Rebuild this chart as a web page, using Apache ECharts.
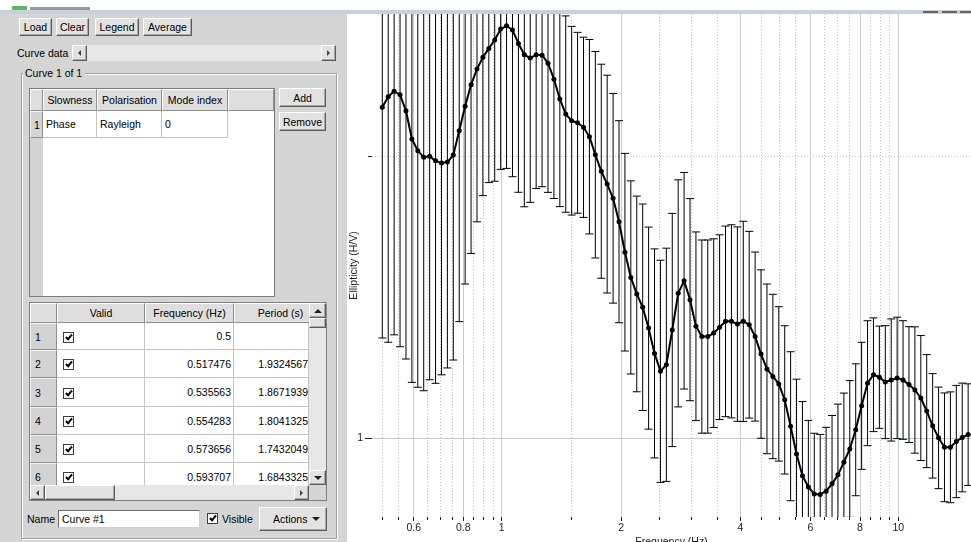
<!DOCTYPE html>
<html>
<head>
<meta charset="utf-8">
<title>Ellipticity curve</title>
<script src="https://cdn.jsdelivr.net/npm/echarts@6.0.0/dist/echarts.min.js"></script>
<style>
  html, body { margin:0; padding:0; background:#fff; }
  body { width:971px; height:542px; overflow:hidden; position:relative;
         font-family:"Liberation Sans", Arial, sans-serif; font-size:10.5px; color:#000; }
  #chart { position:absolute; left:0; top:0; width:971px; height:542px; }
  #ui { position:absolute; left:0; top:0; width:971px; height:542px; pointer-events:none; }
  .c { position:absolute; box-sizing:border-box; white-space:nowrap; overflow:hidden;
       display:flex; align-items:center; }
  .bg { background:#d5d5d5; }
  .btn { background:#e2e2e2; border:1px solid; border-color:#fff #5c5c5c #5c5c5c #fff;
         box-shadow: inset -1px -1px 0 #a9a9a9; justify-content:center; }
  .hdr { background:#dedede; border-top:1px solid #fff; border-left:1px solid #fff;
         border-right:1px solid #8e8e8e; border-bottom:1px solid #8e8e8e; justify-content:center; }
  .rh { background:#d3d3d3; border-top:1px solid #f4f4f4; border-left:1px solid #f4f4f4;
        border-right:1px solid #8e8e8e; border-bottom:1px solid #8e8e8e; padding-left:4px; }
  .cell { background:#fff; border-right:1px solid #c4c4c4; border-bottom:1px solid #c4c4c4; padding:0 3px; }
  .r { justify-content:flex-end; }
  .frame { border:1px solid #7d7d7d; background:#fff; }
  .track { background:#e7e7e7; }
  .chk { background:#fff; border:1px solid #404040; overflow:visible; }
  .chk::after { content:''; position:absolute; left:3px; top:0px; width:2px; height:5px;
                border:solid #000; border-width:0 2px 2px 0; transform:rotate(40deg); }
  .tl { width:0; height:0; border-top:3px solid transparent; border-bottom:3px solid transparent; border-right:3px solid #404040; }
  .tr { width:0; height:0; border-top:3px solid transparent; border-bottom:3px solid transparent; border-left:3px solid #404040; }
  .tu { width:0; height:0; border-left:4px solid transparent; border-right:4px solid transparent; border-bottom:4px solid #202020; }
  .td { width:0; height:0; border-left:4px solid transparent; border-right:4px solid transparent; border-top:4px solid #202020; }
</style>
</head>
<body>
<div id="chart"></div>
<div id="ui"></div>
<script>
// Frequency samples of the ellipticity curve (Hz), log-spaced from 0.5 to 15 Hz
const frequency = [
  0.5, 0.5175, 0.5356, 0.5543, 0.5737, 0.5937, 0.6145, 0.6359, 0.6582, 0.6812,
  0.7050, 0.7296, 0.7551, 0.7815, 0.8088, 0.8371, 0.8664, 0.8966, 0.9280, 0.9604,
  0.9940, 1.0287, 1.0647, 1.1019, 1.1404, 1.1803, 1.2215, 1.2642, 1.3084, 1.3542,
  1.4015, 1.4505, 1.5012, 1.5536, 1.6079, 1.6641, 1.7223, 1.7825, 1.8448, 1.9093,
  1.9760, 2.0451, 2.1166, 2.1906, 2.2671, 2.3464, 2.4284, 2.5133, 2.6011, 2.6920,
  2.7861, 2.8835, 2.9843, 3.0886, 3.1966, 3.3083, 3.4239, 3.5436, 3.6675, 3.7957,
  3.9283, 4.0656, 4.2077, 4.3548, 4.5070, 4.6646, 4.8276, 4.9963, 5.1709, 5.3515,
  5.5385, 5.7321, 5.9325, 6.1399, 6.3545, 6.5766, 6.8064, 7.0444, 7.2906, 7.5454,
  7.8091, 8.0821, 8.3646, 8.6569, 8.9595, 9.2727, 9.5968, 9.9322, 10.279, 10.639,
  11.011, 11.395, 11.794, 12.206, 12.633, 13.074, 13.531, 14.004, 14.494, 15.000
];

// Mean ellipticity (H/V) at each frequency
const ellipticity = [
  2.256, 2.316, 2.347, 2.327, 2.237, 2.087, 2.028, 1.995, 2.000, 1.978,
  1.967, 1.972, 2.006, 2.130, 2.262, 2.385, 2.479, 2.551, 2.608, 2.662,
  2.735, 2.757, 2.728, 2.640, 2.567, 2.547, 2.567, 2.565, 2.515, 2.418,
  2.303, 2.219, 2.183, 2.172, 2.148, 2.099, 2.008, 1.928, 1.868, 1.804,
  1.703, 1.580, 1.485, 1.426, 1.380, 1.311, 1.232, 1.179, 1.198, 1.305,
  1.428, 1.473, 1.406, 1.317, 1.284, 1.284, 1.295, 1.314, 1.333, 1.333,
  1.324, 1.333, 1.322, 1.284, 1.230, 1.186, 1.164, 1.143, 1.099, 1.030,
  0.962, 0.912, 0.887, 0.872, 0.871, 0.878, 0.894, 0.914, 0.943, 0.974,
  1.021, 1.083, 1.145, 1.169, 1.162, 1.148, 1.154, 1.160, 1.154, 1.141,
  1.126, 1.104, 1.069, 1.031, 1.001, 0.978, 0.978, 0.992, 1.002, 1.009
];

// Multiplicative (log-normal) standard deviation at each frequency
const stddevFactor = [
  1.763, 1.829, 1.820, 1.858, 1.841, 1.819, 1.789, 1.775, 1.732, 1.728,
  1.683, 1.659, 1.655, 1.599, 1.548, 1.514, 1.456, 1.405, 1.391, 1.415,
  1.412, 1.420, 1.434, 1.442, 1.453, 1.426, 1.389, 1.382, 1.374, 1.341,
  1.303, 1.273, 1.261, 1.249, 1.248, 1.270, 1.289, 1.301, 1.307, 1.294,
  1.282, 1.275, 1.268, 1.272, 1.289, 1.282, 1.293, 1.314, 1.332, 1.332,
  1.322, 1.305, 1.282, 1.261, 1.268, 1.268, 1.261, 1.255, 1.264, 1.268,
  1.270, 1.279, 1.258, 1.231, 1.230, 1.232, 1.224, 1.209, 1.200, 1.201,
  1.202, 1.200, 1.178, 1.161, 1.159, 1.170, 1.183, 1.190, 1.185, 1.183,
  1.176, 1.169, 1.166, 1.150, 1.134, 1.149, 1.162, 1.161, 1.157, 1.153,
  1.168, 1.166, 1.149, 1.137, 1.133, 1.143, 1.146, 1.148, 1.143, 1.133
];

// Axis ticks
const freqMajorTicks = [0.6, 0.8, 1, 2, 4, 6, 8, 10];
const freqMinorTicks = [0.5, 0.55, 0.65, 0.7, 0.75, 0.85, 0.9, 0.95, 1.5, 2.5, 3, 3.5,
                        4.5, 5, 5.5, 6.5, 7, 7.5, 8.5, 9, 9.5];
const ellMajorTicks = [1];
const ellMinorTicks = [2];

// Rows of the sample table in the side panel
const tableFreq = ['0.5', '0.517476', '0.535563', '0.554283', '0.573656', '0.593707'];
const tablePeriod = ['', '1.9324567', '1.8671939', '1.8041325', '1.7432049', '1.6843325'];

/* ---------------- side panel ---------------- */
const ui = document.getElementById('ui');
function box(cls, x, y, w, h, text, style, parent) {
  const d = document.createElement('div');
  d.className = 'c ' + (cls || '');
  Object.assign(d.style, { left: x + 'px', top: y + 'px', width: w + 'px', height: h + 'px' }, style || {});
  if (text != null) d.textContent = text;
  (parent || ui).appendChild(d);
  return d;
}
function arrowBtn(x, y, w, h, dir) {
  const b = box('btn', x, y, w, h);
  const t = document.createElement('div');
  t.className = dir;
  b.appendChild(t);
  return b;
}

// window chrome
box('', 12, 6, 15, 5, null, { background: '#5cb85c' });
box('', 30, 7, 60, 3, null, { background: '#9a9a9a' });
box('', 0, 10, 971, 4, null, { background: '#c6d1d9' });
box('', 923, 11, 15, 2, null, { background: '#666' });
box('', 942, 11, 15, 2, null, { background: '#666' });
box('', 960, 11, 11, 2, null, { background: '#666' });

// panel background
box('bg', 0, 14, 347, 528);

// tool buttons
box('btn', 19, 18, 33, 18, 'Load');
box('btn', 56, 18, 33, 18, 'Clear');
box('btn', 95, 18, 44, 18, 'Legend');
box('btn', 143, 18, 49, 18, 'Average');

// curve data scroller
box('', 17, 45, 55, 16, 'Curve data');
box('track', 72, 45, 264, 16);
arrowBtn(72, 45, 15, 16, 'tl');
arrowBtn(321, 45, 15, 16, 'tr');

// group box
box('', 21, 73, 316, 466, null, { border: '1px solid #a2a2a2', boxShadow: 'inset 1px 1px 0 #fff, 1px 1px 0 #fff' });
box('bg', 23, 66, 62, 14, 'Curve 1 of 1', { paddingLeft: '2px' });

// mode table
box('frame', 29, 88, 246, 209);
box('', 30, 89, 13, 207, null, { background: '#d3d3d3' });
box('hdr', 30, 89, 13, 22);
box('hdr', 43, 89, 54, 22, 'Slowness');
box('hdr', 97, 89, 65, 22, 'Polarisation');
box('hdr', 162, 89, 66, 22, 'Mode index');
box('hdr', 228, 89, 46, 22);
box('rh', 30, 111, 13, 27, '1', { paddingLeft: '3px' });
box('cell', 43, 111, 54, 27, 'Phase');
box('cell', 97, 111, 65, 27, 'Rayleigh');
box('cell', 162, 111, 66, 27, '0');

box('btn', 279, 88, 47, 19, 'Add');
box('btn', 279, 112, 47, 19, 'Remove');

// sample table
box('frame', 29, 302, 298, 199);
box('hdr', 30, 303, 27, 20);
box('hdr', 57, 303, 88, 20, 'Valid');
box('hdr', 145, 303, 89, 20, 'Frequency (Hz)');
box('hdr', 234, 303, 93, 20, 'Period (s)');
const rowTops = [323, 350, 378, 407, 435, 463];
tableFreq.forEach((f, i) => {
  const y = rowTops[i];
  const h = i < 5 ? rowTops[i + 1] - y : 28;
  box('rh', 30, y, 27, h, String(i + 1));
  box('cell', 57, y, 88, h);
  box('chk', 63, y + Math.round(h / 2) - 5, 11, 11);
  box('cell r', 145, y, 89, h, f, { paddingRight: '2px' });
  box('cell r', 234, y, 75, h, tablePeriod[i], { paddingRight: '0px' });
});
// vertical scroll bar
box('track', 309, 303, 17, 182);
arrowBtn(309, 303, 17, 15, 'tu');
box('btn', 309, 318, 17, 10);
arrowBtn(309, 470, 17, 15, 'td');
// horizontal scroll bar
box('track', 30, 485, 279, 15);
arrowBtn(30, 485, 15, 15, 'tl');
box('btn', 45, 485, 70, 15);
arrowBtn(294, 485, 15, 15, 'tr');
box('bg', 309, 485, 17, 15);

// name / visibility / actions
box('', 27, 510, 30, 18, 'Name');
box('frame', 58, 510, 142, 18, 'Curve #1', { paddingLeft: '3px', borderColor: '#6f6f6f #d0d0d0 #d0d0d0 #6f6f6f' });
box('chk', 207, 513, 11, 11);
box('', 222, 510, 34, 18, 'Visible');
const act = box('btn', 259, 507, 68, 24, 'Actions', { justifyContent: 'flex-start', paddingLeft: '13px' });
const dd = document.createElement('div');
dd.className = 'td';
Object.assign(dd.style, { position: 'absolute', right: '6px', top: '9px' });
act.appendChild(dd);

/* ---------------- chart ---------------- */
const meanPoints = frequency.map((f, i) => [f, ellipticity[i]]);
const barPoints = frequency.map((f, i) => [f, ellipticity[i] / stddevFactor[i], ellipticity[i] * stddevFactor[i]]);

const FONT = 'Liberation Sans';
const fmt = v => String(Math.round(v * 1000) / 1000);
const freqExtent = { min: 0.471, max: 15.25 };
const ellExtent = { min: 0.824, max: 2.838 };

function freqAxis(ticks, major) {
  return Object.assign({
    type: 'log', logBase: 10, position: 'bottom',
    axisLine: { show: false },
    axisTick: { show: true, length: major ? 4 : 3, customValues: ticks, lineStyle: { color: '#222' } },
    axisLabel: major
      ? { show: true, customValues: ticks, formatter: fmt, margin: 6, color: '#1a1a1a', fontFamily: FONT, fontSize: 10.5 }
      : { show: false },
    splitLine: { show: true, lineStyle: major ? { color: '#c6cfcf', width: 1 } : { color: '#c4c4c4', width: 1, type: [1, 2] } },
    minorTick: { show: false }, minorSplitLine: { show: false }
  }, freqExtent);
}
function ellAxis(ticks, major) {
  return Object.assign({
    type: 'log', logBase: 10, position: 'left',
    axisLine: { show: false },
    axisTick: { show: true, length: major ? 7 : 4, customValues: ticks, lineStyle: { color: '#222' } },
    axisLabel: major
      ? { show: true, customValues: ticks, formatter: fmt, margin: 9, color: '#1a1a1a', fontFamily: FONT, fontSize: 10.5 }
      : { show: false },
    splitLine: { show: true, lineStyle: major ? { color: '#c3cccc', width: 1 } : { color: '#c4c4c4', width: 1, type: [1, 2] } },
    minorTick: { show: false }, minorSplitLine: { show: false }
  }, ellExtent);
}

const xMajor = freqAxis(freqMajorTicks, true);
Object.assign(xMajor, {
  name: 'Frequency (Hz)', nameLocation: 'middle', nameGap: 20, nameMoveOverlap: false,
  nameTextStyle: { color: '#1a1a1a', fontFamily: FONT, fontSize: 10.5 }
});
const yMajor = ellAxis(ellMajorTicks, true);
Object.assign(yMajor, {
  name: 'Ellipticity (H/V)', nameLocation: 'middle', nameGap: 12, nameRotate: 90, nameMoveOverlap: false,
  nameTextStyle: { color: '#1a1a1a', fontFamily: FONT, fontSize: 10.5 }
});

const chart = echarts.init(document.getElementById('chart'));
chart.setOption({
  animation: false,
  backgroundColor: '#fff',
  grid: { left: 372, right: 0, top: 14, bottom: 25, containLabel: false, outerBoundsMode: 'none' },
  xAxis: [freqAxis(freqMinorTicks, false), xMajor],
  yAxis: [ellAxis(ellMinorTicks, false), yMajor],
  series: [
    {
      type: 'custom',
      name: 'Standard deviation',
      xAxisIndex: 1, yAxisIndex: 1,
      clip: true,
      z: 2,
      encode: { x: 0, y: [1, 2] },
      data: barPoints,
      renderItem(params, api) {
        const f = api.value(0);
        const lo = api.coord([f, api.value(1)]);
        const hi = api.coord([f, api.value(2)]);
        const cap = 4;
        const style = { stroke: '#000', lineWidth: 1 };
        return {
          type: 'group',
          children: [
            { type: 'line', shape: { x1: hi[0], y1: hi[1], x2: lo[0], y2: lo[1] }, style },
            { type: 'line', shape: { x1: hi[0] - cap, y1: hi[1], x2: hi[0] + cap, y2: hi[1] }, style },
            { type: 'line', shape: { x1: lo[0] - cap, y1: lo[1], x2: lo[0] + cap, y2: lo[1] }, style }
          ]
        };
      }
    },
    {
      type: 'line',
      name: 'Curve #1',
      xAxisIndex: 1, yAxisIndex: 1,
      z: 3,
      data: meanPoints,
      symbol: 'circle',
      symbolSize: 5,
      showSymbol: true,
      lineStyle: { color: '#000', width: 2 },
      itemStyle: { color: '#000' }
    }
  ]
});
</script>
</body>
</html>
